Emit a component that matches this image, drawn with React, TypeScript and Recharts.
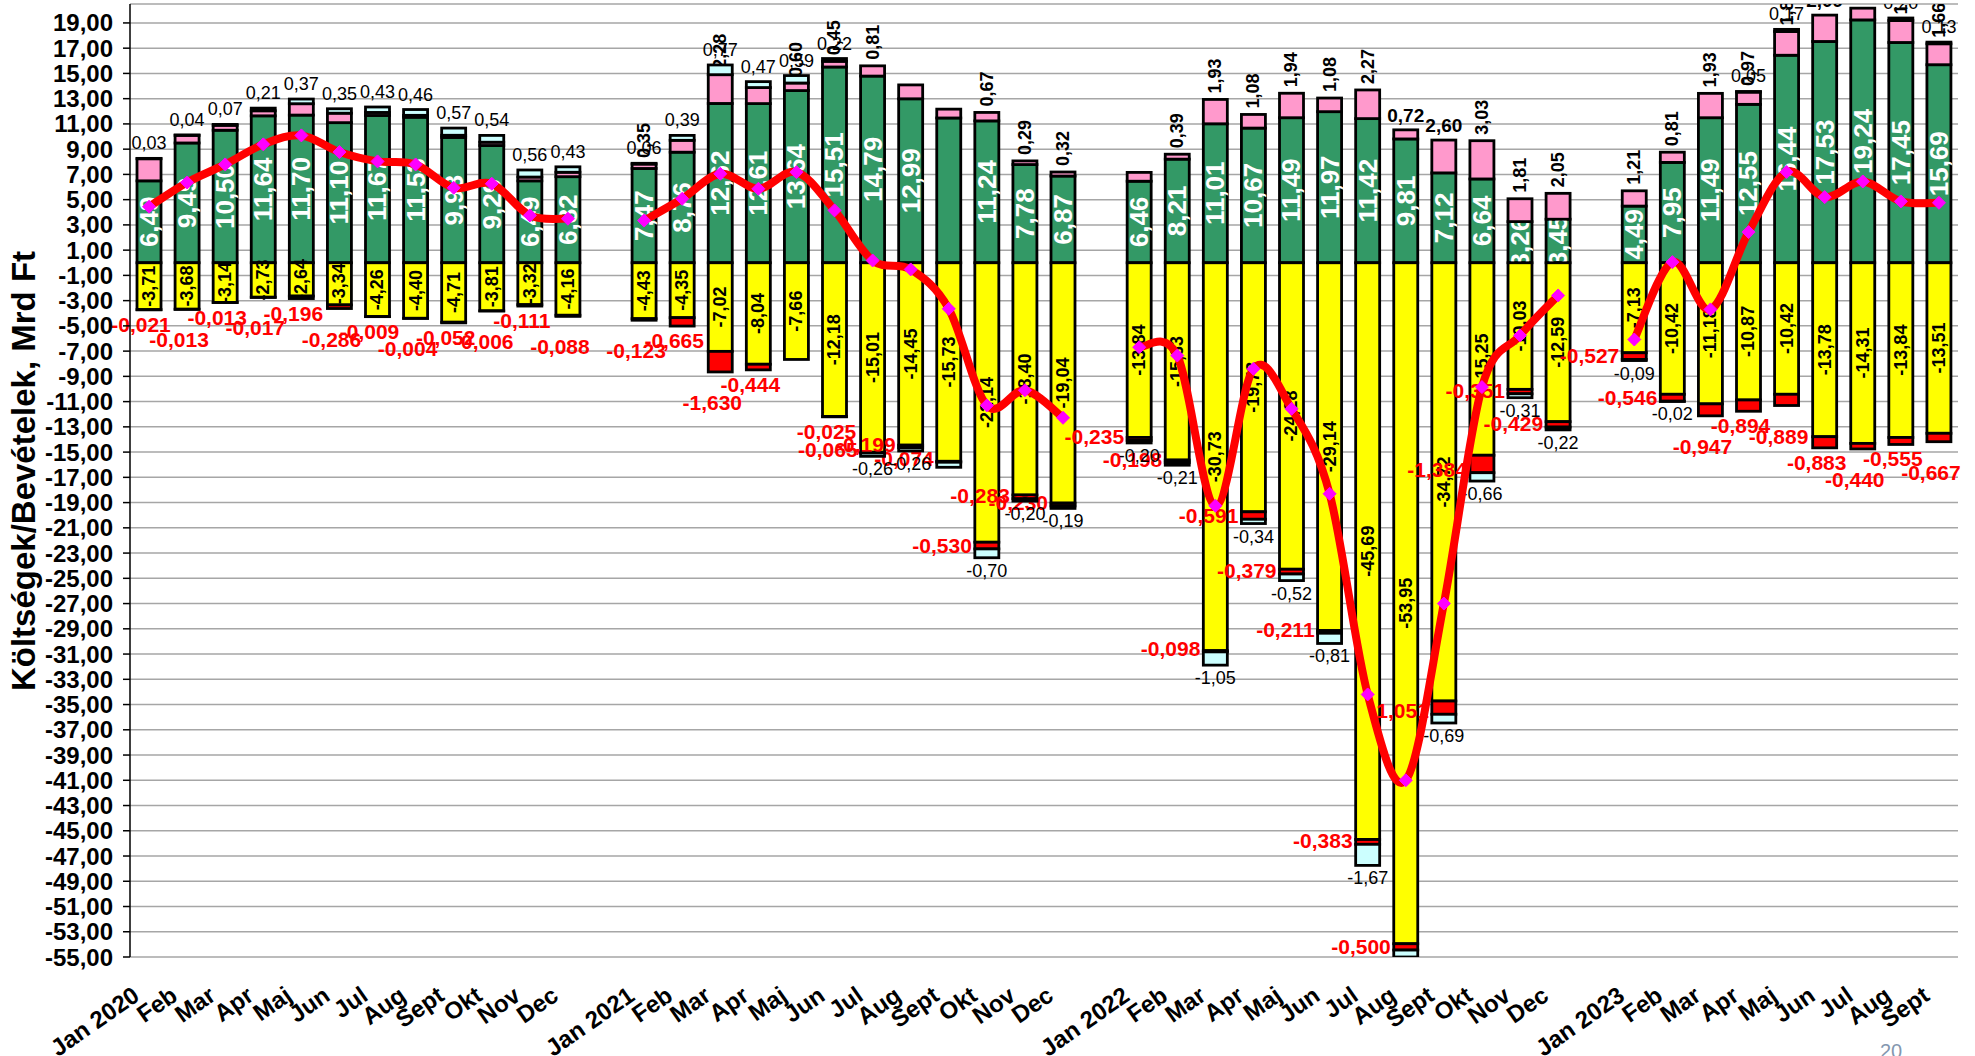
import React from 'react';
import { ComposedChart, Bar, Line, XAxis, YAxis, CartesianGrid } from 'recharts';

// categories: four years, one empty slot between them
const months = [
  'Jan 2020', 'Feb', 'Mar', 'Apr', 'Maj', 'Jun', 'Jul', 'Aug', 'Sept', 'Okt', 'Nov', 'Dec', '',
  'Jan 2021', 'Feb', 'Mar', 'Apr', 'Maj', 'Jun', 'Jul', 'Aug', 'Sept', 'Okt', 'Nov', 'Dec', '',
  'Jan 2022', 'Feb', 'Mar', 'Apr', 'Maj', 'Jun', 'Jul', 'Aug', 'Sept', 'Okt', 'Nov', 'Dec', '',
  'Jan 2023', 'Feb', 'Mar', 'Apr', 'Maj', 'Jun', 'Jul', 'Aug', 'Sept',
];

// revenues (positive)
const green = [
  6.49, 9.49, 10.5, 11.64, 11.7, 11.1, 11.67, 11.53, 9.93, 9.29, 6.49, 6.82, null,
  7.47, 8.76, 12.62, 12.61, 13.64, 15.51, 14.79, 12.99, 11.47, 11.24, 7.78, 6.87, null,
  6.46, 8.21, 11.01, 10.67, 11.49, 11.97, 11.42, 9.81, 7.12, 6.64, 3.26, 3.45, null,
  4.49, 7.95, 11.49, 12.55, 16.44, 17.53, 19.24, 17.45, 15.69,
];
const pink = [
  1.75, 0.6, 0.39, 0.4, 0.9, 0.75, 0.24, 0.15, 0.17, 0.26, 0.3, 0.35, null,
  0.35, 0.94, 2.28, 1.27, 0.6, 0.45, 0.81, 1.1, 0.7, 0.67, 0.29, 0.32, null,
  0.7, 0.39, 1.93, 1.08, 1.94, 1.08, 2.27, 0.72, 2.6, 3.03, 1.81, 2.05, null,
  1.21, 0.81, 1.93, 0.97, 1.88, 2.09, 0.93, 1.74, 1.66,
];
const cyanUp = [
  0.03, 0.04, 0.07, 0.21, 0.37, 0.35, 0.43, 0.46, 0.57, 0.54, 0.56, 0.43, null,
  0.06, 0.39, 0.77, 0.47, 0.59, 0.22, 0, 0, 0, 0, 0, 0, null,
  0, 0, 0, 0, 0, 0, 0, 0, 0, 0, 0, 0, null,
  0, 0, 0, 0.05, 0.17, 0, 0, 0.2, 0.13,
];

// costs (negative)
const yellow = [
  -3.71, -3.68, -3.14, -2.73, -2.64, -3.34, -4.26, -4.4, -4.71, -3.81, -3.32, -4.16, null,
  -4.43, -4.35, -7.02, -8.04, -7.66, -12.18, -15.01, -14.45, -15.73, -22.14, -18.4, -19.04, null,
  -13.84, -15.63, -30.73, -19.73, -24.28, -29.14, -45.69, -53.95, -34.72, -15.25, -10.03, -12.59, null,
  -7.13, -10.42, -11.18, -10.87, -10.42, -13.78, -14.31, -13.84, -13.51,
];
const red = [
  -0.021, -0.013, -0.013, -0.017, -0.196, -0.286, -0.009, -0.004, -0.052, -0.006, -0.111, -0.088, null,
  -0.123, -0.665, -1.63, -0.444, 0, -0.025, -0.065, -0.199, -0.074, -0.53, -0.283, -0.23, null,
  -0.235, -0.198, -0.098, -0.591, -0.379, -0.211, -0.383, -0.5, -1.051, -1.384, -0.351, -0.429, null,
  -0.527, -0.546, -0.947, -0.894, -0.889, -0.883, -0.44, -0.555, -0.667,
];
const cyanDown = [
  0, 0, 0, 0, 0, 0, 0, 0, 0, 0, 0, 0, null,
  0, 0, 0, 0, 0, 0, -0.26, -0.26, -0.4, -0.7, -0.2, -0.19, null,
  -0.2, -0.21, -1.05, -0.34, -0.52, -0.81, -1.67, -1.2, -0.69, -0.66, -0.31, -0.22, null,
  -0.09, -0.02, 0, 0, 0, 0, 0, 0, 0,
];

// balance line
const balance = [
  4.44, 6.36, 7.79, 9.38, 10.09, 8.77, 8.03, 7.79, 5.94, 6.26, 3.75, 3.49, null,
  3.35, 5.07, 7.05, 5.86, 7.18, 4.15, 0.18, -0.53, -3.65, -11.3, -10.1, -12.28, null,
  -6.69, -7.35, -19.25, -8.4, -11.57, -18.3, -34.2, -41.0, -27.0, -9.85, -5.76, -2.59, null,
  -6.08, 0.05, -3.7, 2.43, 7.19, 5.2, 6.44, 4.86, 4.75,
];

// which labels the original leaves out / draws flat
const greenHidden = [21];
const pinkHidden = [0, 1, 2, 3, 4, 5, 6, 7, 8, 9, 10, 11, 14, 16, 20, 21, 26];
const pinkFlat = [33, 34, 44];
const cyanDownHidden = [21, 33];

const yTicks = [
  -55, -53, -51, -49, -47, -45, -43, -41, -39, -37, -35, -33, -31, -29, -27, -25, -23, -21, -19,
  -17, -15, -13, -11, -9, -7, -5, -3, -1, 1, 3, 5, 7, 9, 11, 13, 15, 17, 19,
];

const FONT = '"Liberation Sans", Arial, sans-serif';
const fmt = (v: number, d = 2) => v.toFixed(d).replace('.', ',');

const rows = months.map((month, i) => ({
  month,
  green: green[i],
  pink: pink[i],
  cyanUp: cyanUp[i] || null,
  yellow: yellow[i],
  red: red[i] || null,
  cyanDown: cyanDown[i] || null,
  balance: balance[i],
  greenLabel: green[i] != null && !greenHidden.includes(i) ? fmt(green[i] as number) : '',
  pinkLabel: pink[i] && !pinkHidden.includes(i) ? fmt(pink[i] as number) : '',
  pinkFlat: pinkFlat.includes(i),
  cyanUpLabel: cyanUp[i] ? fmt(cyanUp[i] as number) : '',
  yellowLabel: yellow[i] != null ? fmt(yellow[i] as number) : '',
  redLabel: red[i] ? fmt(red[i] as number, 3) : '',
  cyanDownLabel: cyanDown[i] && !cyanDownHidden.includes(i) ? fmt(cyanDown[i] as number) : '',
}));

function box(p: any) {
  const h = Math.abs(p.height || 0);
  const top = p.height < 0 ? p.y + p.height : p.y;
  return { top, h, bottom: top + h, cx: p.x + p.width / 2 };
}

function Rect({ p, fill }: { p: any; fill: string }) {
  const { top, h } = box(p);
  return <rect x={p.x} y={top} width={p.width} height={h} fill={fill} stroke="#000" strokeWidth={2.8} />;
}

const vText = (x: number, y: number, txt: string, size: number, color: string, anchor = 'middle') => (
  <text
    x={x}
    y={y}
    transform={`rotate(-90 ${x} ${y})`}
    textAnchor={anchor}
    dominantBaseline="central"
    fill={color}
    fontSize={size}
    fontWeight="bold"
    fontFamily={FONT}
  >
    {txt}
  </text>
);

const GreenShape = (p: any) => {
  if (!p.payload || !p.height) return null;
  const { top, bottom, cx } = box(p);
  return (
    <g>
      <Rect p={p} fill="#339966" />
      {p.payload.greenLabel && vText(cx, (top + bottom) / 2, p.payload.greenLabel, 26, '#fff')}
    </g>
  );
};

const PinkShape = (p: any) => {
  if (!p.payload || !p.height) return null;
  const { top, cx } = box(p);
  const lbl = p.payload.pinkLabel;
  return (
    <g>
      <Rect p={p} fill="#FF99CC" />
      {lbl &&
        (p.payload.pinkFlat ? (
          <text x={cx} y={top - 8} textAnchor="middle" fontSize={19} fontWeight="bold" fontFamily={FONT}>
            {lbl}
          </text>
        ) : (
          vText(cx, top - 6, lbl, 18, '#000', 'start')
        ))}
    </g>
  );
};

const CyanUpShape = (p: any) => {
  if (!p.payload || !p.height) return null;
  const { top, cx } = box(p);
  return (
    <g>
      <Rect p={p} fill="#CCFFFF" />
      {p.payload.cyanUpLabel && (
        <text x={cx} y={top - 9} textAnchor="middle" fontSize={18} fontFamily={FONT}>
          {p.payload.cyanUpLabel}
        </text>
      )}
    </g>
  );
};

const YellowShape = (p: any) => {
  if (!p.payload || !p.height) return null;
  const { top, bottom, cx } = box(p);
  return (
    <g>
      <Rect p={p} fill="#FFFF00" />
      {vText(cx, (top + bottom) / 2, p.payload.yellowLabel, 18, '#000')}
    </g>
  );
};

const RedShape = (p: any) => {
  if (!p.payload || p.payload.red == null) return null;
  const { bottom, cx } = box(p);
  const beside = p.payload.cyanDown != null;
  return (
    <g>
      <Rect p={p} fill="#FF0000" />
      {beside ? (
        <text x={p.x - 3} y={bottom + 4} textAnchor="end" fill="#FF0000" fontSize={21} fontWeight="bold" fontFamily={FONT}>
          {p.payload.redLabel}
        </text>
      ) : (
        <text
          x={cx - 8}
          y={bottom + 22 + (p.index % 2 ? 16 : 0)}
          textAnchor="middle"
          fill="#FF0000"
          fontSize={21}
          fontWeight="bold"
          fontFamily={FONT}
        >
          {p.payload.redLabel}
        </text>
      )}
    </g>
  );
};

const CyanDownShape = (p: any) => {
  if (!p.payload || !p.height) return null;
  const { bottom, cx } = box(p);
  return (
    <g>
      <Rect p={p} fill="#CCFFFF" />
      {p.payload.cyanDownLabel && (
        <text x={cx} y={bottom + 19} textAnchor="middle" fontSize={18} fontFamily={FONT}>
          {p.payload.cyanDownLabel}
        </text>
      )}
    </g>
  );
};

// Excel-style smoothed line (Catmull-Rom through the points)
function excelCurve(context: any) {
  let pts: number[][] = [];
  return {
    areaStart() {},
    areaEnd() {},
    lineStart() {
      pts = [];
    },
    point(x: number, y: number) {
      pts.push([x, y]);
    },
    lineEnd() {
      if (!pts.length) return;
      context.moveTo(pts[0][0], pts[0][1]);
      if (pts.length === 1) {
        context.lineTo(pts[0][0], pts[0][1]);
        return;
      }
      for (let i = 0; i < pts.length - 1; i++) {
        const p0 = pts[i - 1] || pts[i];
        const p1 = pts[i];
        const p2 = pts[i + 1];
        const p3 = pts[i + 2] || p2;
        context.bezierCurveTo(
          p1[0] + (p2[0] - p0[0]) / 6,
          p1[1] + (p2[1] - p0[1]) / 6,
          p2[0] - (p3[0] - p1[0]) / 6,
          p2[1] - (p3[1] - p1[1]) / 6,
          p2[0],
          p2[1],
        );
      }
    },
  };
}

const Diamond = (p: any) => {
  const { cx, cy } = p;
  if (cx == null || cy == null || Number.isNaN(cy)) return <g key={p.index} />;
  const r = 6.5;
  return (
    <polygon
      key={p.index}
      points={`${cx},${cy - r} ${cx + r},${cy} ${cx},${cy + r} ${cx - r},${cy}`}
      fill="#FF00FF"
      stroke="#FF00FF"
    />
  );
};

const YTick = ({ x, y, payload }: any) => (
  <text x={x} y={y} textAnchor="end" dominantBaseline="central" fontSize={24} fontWeight="bold" fontFamily={FONT}>
    {fmt(payload.value)}
  </text>
);

const XTick = ({ x, y, payload }: any) => {
  const ax = x - 8;
  const ay = y + 40;
  return (
    <text
      x={ax}
      y={ay}
      transform={`rotate(-35 ${ax} ${ay})`}
      textAnchor="end"
      fontSize={24}
      fontWeight="bold"
      fontFamily={FONT}
    >
      {payload.value}
    </text>
  );
};

export default function App() {
  return (
    <div style={{ position: 'absolute', left: 0, top: 0, width: 1975, height: 1056, background: '#fff', overflow: 'hidden' }}>
      <ComposedChart
        width={1975}
        height={1056}
        data={rows}
        stackOffset="sign"
        margin={{ top: 4, right: 17, bottom: 0, left: 0 }}
      >
        <CartesianGrid vertical={false} stroke="#A6A6A6" strokeWidth={1.5} />
        <XAxis
          dataKey="month"
          interval={0}
          tickLine={false}
          axisLine={false}
          tickSize={0}
          height={99}
          tick={<XTick />}
        />
        <YAxis
          width={130}
          domain={[-55, 20.5]}
          ticks={yTicks}
          allowDataOverflow
          tickSize={7}
          tickMargin={10}
          axisLine={{ stroke: '#000', strokeWidth: 1.5 }}
          tickLine={{ stroke: '#000', strokeWidth: 1.5 }}
          tick={<YTick />}
        />
        <Bar dataKey="green" stackId="s" barSize={24} shape={GreenShape} isAnimationActive={false} />
        <Bar dataKey="pink" stackId="s" barSize={24} shape={PinkShape} isAnimationActive={false} />
        <Bar dataKey="cyanUp" stackId="s" barSize={24} shape={CyanUpShape} isAnimationActive={false} />
        <Bar dataKey="yellow" stackId="s" barSize={24} shape={YellowShape} isAnimationActive={false} />
        <Bar dataKey="red" stackId="s" barSize={24} shape={RedShape} isAnimationActive={false} />
        <Bar dataKey="cyanDown" stackId="s" barSize={24} shape={CyanDownShape} isAnimationActive={false} />
        <Line
          dataKey="balance"
          type={excelCurve as any}
          stroke="#FF0000"
          strokeWidth={8}
          connectNulls={false}
          dot={(p: any) => <Diamond key={p.index} {...p} />}
          activeDot={false}
          isAnimationActive={false}
        />
      </ComposedChart>
      <div
        style={{
          position: 'absolute',
          left: 24,
          top: 471,
          transform: 'translate(-50%, -50%) rotate(-90deg)',
          whiteSpace: 'nowrap',
          fontFamily: FONT,
          fontWeight: 'bold',
          fontSize: 33,
          color: '#000',
        }}
      >
        Költségek/Bevételek, Mrd Ft
      </div>
      <div style={{ position: 'absolute', left: 1880, top: 1040, fontFamily: FONT, fontSize: 20, color: '#8497B0' }}>
        20
      </div>
    </div>
  );
}
